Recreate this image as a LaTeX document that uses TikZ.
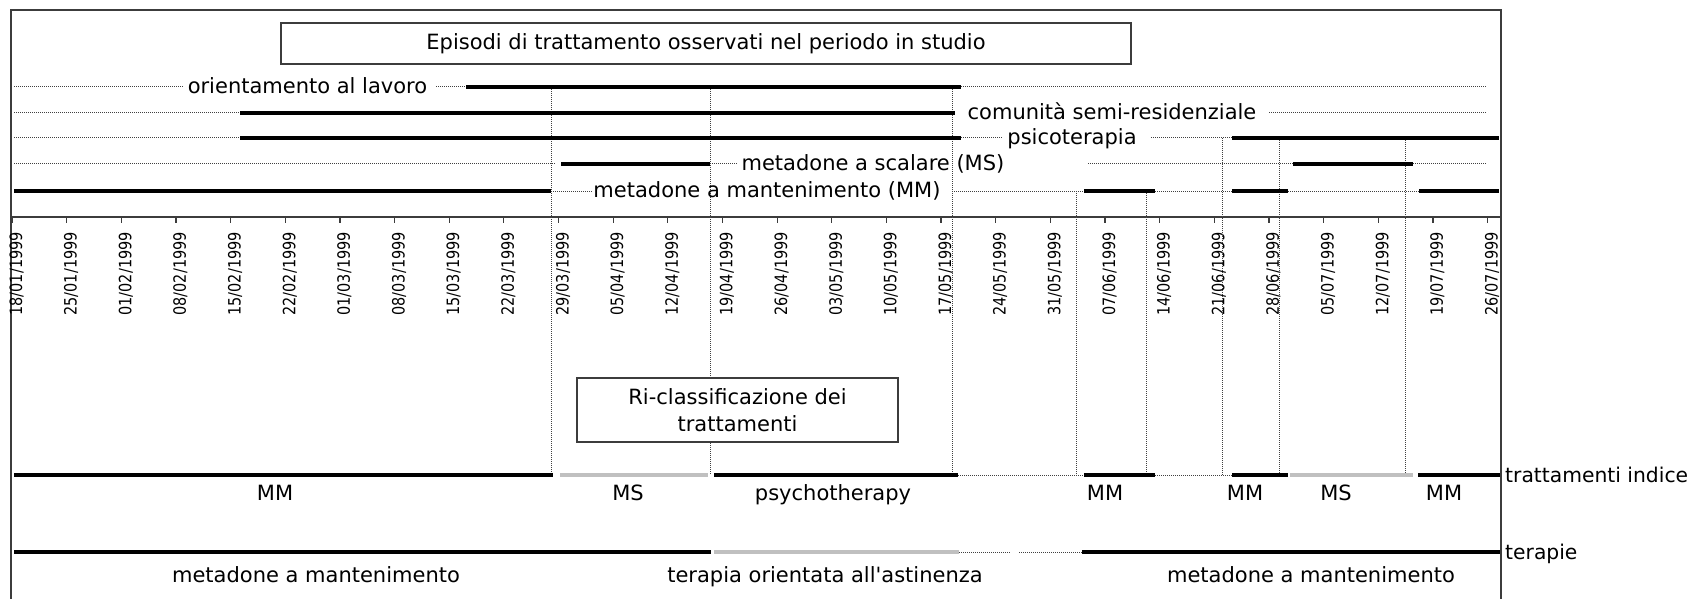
\documentclass[tikz,border=0pt]{standalone}
\usepackage{fontspec}
\setmainfont{DejaVu Sans}
\definecolor{lgray}{RGB}{192,192,192}
\definecolor{dgray}{RGB}{60,60,60}
\begin{document}
\begin{tikzpicture}[x=1pt,y=-1pt,
  frame/.style={line width=1.4pt, draw=dgray},
  thk/.style={line width=3.6pt, black},
  gry/.style={line width=3.6pt, lgray},
  dot/.style={dash pattern=on 1pt off 1pt, line width=1pt, black!75},
  vdot/.style={dash pattern=on 1pt off 1pt, line width=1pt, black!75},
  lbl/.style={font=\fontsize{21}{21}\selectfont, inner sep=0pt},
  datelbl/.style={font=\fontsize{17}{17}\selectfont, inner sep=0pt, rotate=90, anchor=east},
  boxnode/.style={draw=dgray, line width=1.2pt, fill=white, inner sep=0pt, align=center}]
\useasboundingbox (0,0) rectangle (1690,599);
\fill[white] (0,0) rectangle (1690,599);

% frame and axis
\draw[frame] (11,599) -- (11,10) -- (1501,10) -- (1501,599);
\draw[line width=1.4pt, dgray] (11,217) -- (1501,217);
\foreach \d [count=\i from 0] in {18/01,25/01,01/02,08/02,15/02,22/02,01/03,08/03,15/03,22/03,29/03,05/04,12/04,19/04,26/04,03/05,10/05,17/05,24/05,31/05,07/06,14/06,21/06,28/06,05/07,12/07,19/07,26/07}{
  \pgfmathsetmacro{\tx}{12+54.65*\i}
  \draw[line width=1.2pt, dgray] (\tx,217) -- (\tx,223);
  \node[datelbl] (date\i) at (\tx+4.5,232) {\scalebox{0.85}[1]{\d/1999}};
}

% vertical dotted guides
\foreach \vx/\vy in {551/89,710/89,952/89,1076/191,1146/191,1222/138,1279/138,1405/138}{
  \draw[vdot] (\vx,\vy) -- (\vx,475);
}

% title box
\node[boxnode, minimum width=850pt, minimum height=41pt, font=\fontsize{21}{21}\selectfont] (title) at (706,43.5) {Episodi di trattamento osservati nel periodo in studio};

% row 1: orientamento al lavoro (y=87)
\draw[dot] (14,87) -- (183,87);
\node[lbl, anchor=base] (r1) at (307.5,93.5) {orientamento al lavoro};
\draw[dot] (436,87) -- (466,87);
\draw[thk] (466,87) -- (961,87);
\draw[dot] (961,87) -- (1486,87);

% row 2: comunita (y=113)
\draw[dot] (14,113) -- (240,113);
\draw[thk] (240,113) -- (955,113);
\node[lbl, anchor=base] (r2) at (1112,119.5) {comunità semi-residenziale};
\draw[dot] (1269,113) -- (1486,113);

% row 3: psicoterapia (y=138)
\draw[dot] (14,138) -- (240,138);
\draw[thk] (240,138) -- (961,138);
\draw[dot] (961,138) -- (1002,138);
\node[lbl, anchor=base] (r3) at (1072,144.5) {psicoterapia};
\draw[dot] (1151,138) -- (1232,138);
\draw[thk] (1232,138) -- (1499,138);

% row 4: metadone a scalare (y=164)
\draw[dot] (14,164) -- (556,164);
\draw[thk] (561,164) -- (710,164);
\draw[dot] (710,164) -- (737,164);
\node[lbl, anchor=base] (r4) at (873,170.5) {metadone a scalare (MS)};
\draw[dot] (1088,164) -- (1293,164);
\draw[thk] (1293,164) -- (1413,164);
\draw[dot] (1413,164) -- (1486,164);

% row 5: metadone a mantenimento (y=191)
\draw[thk] (14,191) -- (551,191);
\draw[dot] (551,191) -- (592,191);
\node[lbl, anchor=base] (r5) at (767,197.5) {metadone a mantenimento (MM)};
\draw[dot] (952,191) -- (1084,191);
\draw[thk] (1084,191) -- (1155,191);
\draw[dot] (1155,191) -- (1232,191);
\draw[thk] (1232,191) -- (1288,191);
\draw[dot] (1288,191) -- (1419,191);
\draw[thk] (1419,191) -- (1499,191);

% reclassification box
\node[boxnode, minimum width=321pt, minimum height=64pt, font=\fontsize{21}{27}\selectfont] (reclass) at (737.5,410) {Ri-classificazione dei\\trattamenti};

% trattamenti indice (y=475)
\draw[thk] (14,475) -- (553,475);
\draw[gry] (560,475) -- (708,475);
\draw[thk] (714,475) -- (958,475);
\draw[dot] (958,475) -- (1084,475);
\draw[thk] (1084,475) -- (1155,475);
\draw[dot] (1155,475) -- (1232,475);
\draw[thk] (1232,475) -- (1288,475);
\draw[gry] (1290,475) -- (1413,475);
\draw[thk] (1418,475) -- (1500,475);
\node[lbl, anchor=base west, font=\fontsize{20.3}{20.3}\selectfont] (indice) at (1505,482) {trattamenti indice};
\node[lbl, anchor=base] (i1) at (275,500) {MM};
\node[lbl, anchor=base] (i2) at (628,500) {MS};
\node[lbl, anchor=base] (i3) at (833,500) {psychotherapy};
\node[lbl, anchor=base] (i4) at (1105,500) {MM};
\node[lbl, anchor=base] (i5) at (1245,500) {MM};
\node[lbl, anchor=base] (i6) at (1336,500) {MS};
\node[lbl, anchor=base] (i7) at (1444,500) {MM};

% terapie (y=552)
\draw[thk] (14,552) -- (711,552);
\draw[gry] (714,552) -- (959,552);
\draw[dot] (959,552) -- (1011,552);
\draw[dot] (1019,552) -- (1082,552);
\draw[thk] (1082,552) -- (1500,552);
\node[lbl, anchor=base west, font=\fontsize{20.3}{20.3}\selectfont] (terapie) at (1505,559) {terapie};
\node[lbl, anchor=base] (t1) at (316,582) {metadone a mantenimento};
\node[lbl, anchor=base] (t2) at (825,582) {terapia orientata all\textquotesingle astinenza};
\node[lbl, anchor=base] (t3) at (1311,582) {metadone a mantenimento};
\end{tikzpicture}
\end{document}
